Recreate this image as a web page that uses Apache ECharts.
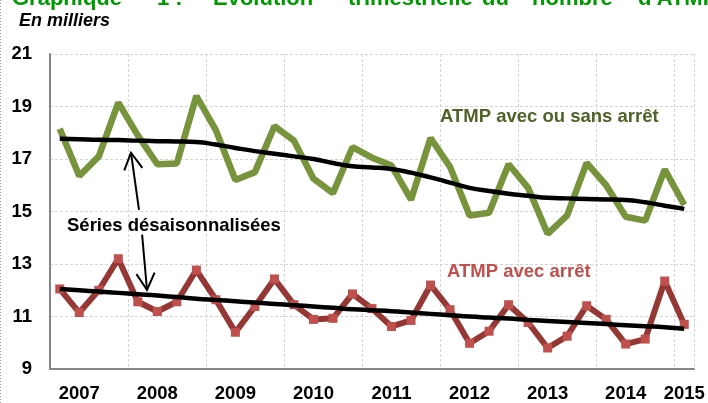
<!DOCTYPE html>
<html>
<head>
<meta charset="utf-8">
<script src="https://cdn.jsdelivr.net/npm/echarts@6/dist/echarts.min.js"></script>
<style>
html, body { margin: 0; padding: 0; background: #fff; }
#chart { width: 708px; height: 403px; }
</style>
</head>
<body>
<div id="chart"></div>
<script>
// trimestres 2007T1 .. 2015T1
const quarters = [
  '2007T1', '2007T2', '2007T3', '2007T4', '2008T1', '2008T2', '2008T3', '2008T4',
  '2009T1', '2009T2', '2009T3', '2009T4', '2010T1', '2010T2', '2010T3', '2010T4',
  '2011T1', '2011T2', '2011T3', '2011T4', '2012T1', '2012T2', '2012T3', '2012T4',
  '2013T1', '2013T2', '2013T3', '2013T4', '2014T1', '2014T2', '2014T3', '2014T4',
  '2015T1'
]
// libellés affichés sous l'axe (un par trimestre, vide sinon)
const yearLabels = [
  '', '2007', '', '', '', '2008', '', '', '', '2009', '', '', '', '2010', '', '', '',
  '2011', '', '', '', '2012', '', '', '', '2013', '', '', '', '2014', '', '', '2015'
]
const yTicks = [9, 11, 13, 15, 17, 19, 21]

// ATMP avec ou sans arrêt (brut)
const atmpTotal = [
  18.15, 16.35, 17.1, 19.15, 17.9, 16.8, 16.83, 19.4,
  18.1, 16.2, 16.5, 18.25, 17.7, 16.25, 15.7, 17.45,
  17.05, 16.75, 15.45, 17.8, 16.7, 14.85, 14.95, 16.8,
  15.9, 14.15, 14.85, 16.85, 16.0, 14.8, 14.65, 16.6,
  15.25
]
// ATMP avec ou sans arrêt (CVS)
const atmpTotalCvs = [
  17.77, 17.75, 17.73, 17.72, 17.7, 17.68, 17.67, 17.65,
  17.55, 17.42, 17.3, 17.2, 17.1, 17.0, 16.85, 16.72,
  16.68, 16.62, 16.48, 16.3, 16.1, 15.9, 15.78, 15.68,
  15.6, 15.52, 15.5, 15.48, 15.46, 15.44, 15.35, 15.22,
  15.1
]
// ATMP avec arrêt (brut)
const atmpArret = [
  12.05, 11.15, 12.0, 13.2, 11.56, 11.19, 11.56, 12.77,
  11.64, 10.4, 11.38, 12.43, 11.45, 10.89, 10.93, 11.86,
  11.3, 10.62, 10.85, 12.2, 11.26, 9.98, 10.44, 11.45,
  10.77, 9.8, 10.25, 11.41, 10.89, 9.95, 10.14, 12.35,
  10.7
]
// ATMP avec arrêt (CVS)
const atmpArretCvs = [
  12.05, 12.0, 11.95, 11.9, 11.85, 11.8, 11.74, 11.68,
  11.63, 11.58, 11.53, 11.48, 11.43, 11.38, 11.33, 11.28,
  11.24, 11.2, 11.15, 11.1, 11.05, 11.0, 10.96, 10.92,
  10.87, 10.83, 10.79, 10.75, 10.71, 10.67, 10.63, 10.59,
  10.53
]

// flèches "Séries désaisonnalisées" (index trimestre, valeur)
const arrowUp = { from: [4.06, 15.06], to: [3.65, 17.24] }
const arrowDown = { from: [4.22, 14.12], to: [4.47, 12.01] }

const FONT = '"Liberation Sans", Arial, sans-serif'
const chart = echarts.init(document.getElementById('chart'))

chart.setOption({
  animation: false,
  grid: { left: 50, right: 14, top: 54, bottom: 30 },
  xAxis: {
    type: 'category',
    data: quarters,
    boundaryGap: true,
    axisLine: { lineStyle: { color: '#868686', width: 2 } },
    axisTick: { show: false },
    axisLabel: {
      interval: 0,
      margin: 15,
      color: '#000',
      fontFamily: FONT,
      fontWeight: 'bold',
      fontSize: 18.5,
      formatter: (v, i) => yearLabels[i]
    },
    splitLine: {
      show: true,
      interval: (i) => i % 4 === 0,
      lineStyle: { color: '#d4d4d4', type: [3, 2], width: 1 }
    }
  },
  yAxis: {
    type: 'value',
    min: yTicks[0],
    max: yTicks[yTicks.length - 1],
    interval: 2,
    axisLine: { show: true, lineStyle: { color: '#868686', width: 2 } },
    axisTick: { show: false },
    axisLabel: {
      margin: 18,
      color: '#000',
      fontFamily: FONT,
      fontWeight: 'bold',
      fontSize: 18.5
    },
    splitLine: { lineStyle: { color: '#d4d4d4', type: [3, 2], width: 1 } }
  },
  series: [
    {
      name: 'ATMP avec ou sans arrêt',
      type: 'line',
      data: atmpTotal,
      symbol: 'none',
      lineStyle: { color: '#77933c', width: 6.5 },
      z: 2
    },
    {
      name: 'ATMP avec arrêt',
      type: 'line',
      data: atmpArret,
      symbol: 'rect',
      symbolSize: 9,
      itemStyle: { color: '#c0504d' },
      lineStyle: { color: '#953735', width: 6 },
      z: 2
    },
    {
      name: 'ATMP avec ou sans arrêt CVS',
      type: 'line',
      data: atmpTotalCvs,
      smooth: true,
      symbol: 'none',
      lineStyle: { color: '#000', width: 4.5 },
      z: 3
    },
    {
      name: 'ATMP avec arrêt CVS',
      type: 'line',
      data: atmpArretCvs,
      smooth: true,
      symbol: 'none',
      lineStyle: { color: '#000', width: 4.5 },
      z: 3
    }
  ]
})

// position pixel d'un point (index fractionnaire sur l'axe des catégories)
function toPx (pt) {
  const i = Math.floor(pt[0])
  const f = pt[0] - i
  const a = chart.convertToPixel({ gridIndex: 0 }, [i, pt[1]])
  const b = chart.convertToPixel({ gridIndex: 0 }, [i + 1, pt[1]])
  return [a[0] + f * (b[0] - a[0]), a[1]]
}

function arrow (ar) {
  const p0 = toPx(ar.from)
  const p1 = toPx(ar.to)
  const ang = Math.atan2(p0[1] - p1[1], p0[0] - p1[0])
  const len = 19
  const spread = 0.5
  const h1 = [p1[0] + len * Math.cos(ang + spread), p1[1] + len * Math.sin(ang + spread)]
  const h2 = [p1[0] + len * Math.cos(ang - spread), p1[1] + len * Math.sin(ang - spread)]
  return [
    { type: 'line', shape: { x1: p0[0], y1: p0[1], x2: p1[0], y2: p1[1] }, style: { stroke: '#000', lineWidth: 2 }, z: 10 },
    { type: 'polyline', shape: { points: [h1, p1, h2] }, style: { stroke: '#000', lineWidth: 2, fill: null }, z: 10 }
  ]
}

function label (text, x, y, color, font) {
  return {
    type: 'text',
    z: 10,
    style: {
      text: text,
      x: x,
      y: y,
      fill: color,
      font: font || ('bold 18.5px ' + FONT),
      textAlign: 'left',
      textVerticalAlign: 'middle'
    }
  }
}

// titre (coupé en haut de l'image)
const titleWords = [
  ['Graphique', 12], ['1 :', 157], ['Évolution', 213], ['trimestrielle', 348],
  ['du', 482], ['nombre', 532], ["d'ATMP", 638]
]

chart.setOption({
  graphic: [
    { type: 'line', shape: { x1: 0.5, y1: 0, x2: 0.5, y2: 403 }, style: { stroke: '#999', lineWidth: 1, lineDash: [1, 2] } },
    ...titleWords.map(w => label(w[0], w[1], -1, '#009a00', 'bold 22px ' + FONT)),
    label('En milliers', 19, 21, '#000', 'italic bold 18px ' + FONT),
    label('ATMP avec ou sans arrêt', 440, 117, '#4f6228'),
    label('ATMP avec arrêt', 447, 272, '#c0504d'),
    label('Séries désaisonnalisées', 67, 226, '#000'),
    ...arrow(arrowUp),
    ...arrow(arrowDown)
  ]
})
</script>
</body>
</html>
